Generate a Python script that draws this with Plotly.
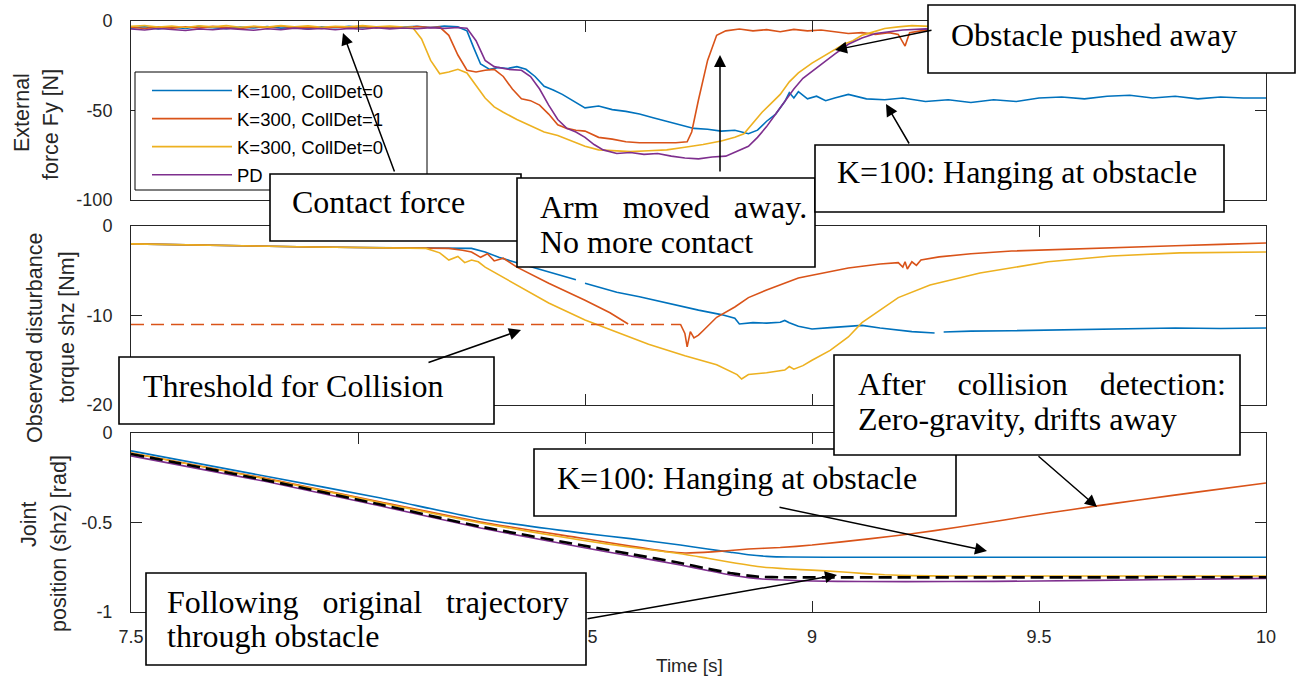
import plotly.graph_objects as go

# ---------------- data ----------------
x_tick_vals = [7.5, 8, 8.5, 9, 9.5, 10]
x_tick_text = ["7.5", "", "8.5", "9", "9.5", "10"]   # the "8" label is hidden under a box in the reference
fy_tick_vals = [-100, -50, 0]
fy_tick_text = ["-100", "-50", "0"]
tau_tick_vals = [-20, -10, 0]
tau_tick_text = ["-20", "-10", "0"]
q_tick_vals = [-1, -0.5, 0]
q_tick_text = ["-1", "-0.5", "0"]

series_names = ["K=100, CollDet=0", "K=300, CollDet=1", "K=300, CollDet=0", "PD"]
series_colors = ["#0072BD", "#D95319", "#EDB120", "#7E2F8E"]

# External force Fy [N]  (time, value)
fy_k100_cd0 = [(7.50,-4.0),(7.53,-3.2),(7.56,-4.4),(7.59,-3.5),(7.62,-4.1),(7.65,-3.0),(7.68,-3.8),(7.71,-4.3),
    (7.74,-3.4),(7.77,-3.9),(7.80,-3.1),(7.83,-4.0),(7.86,-3.6),(7.89,-4.4),(7.92,-3.3),(7.95,-3.8),(7.98,-3.0),
    (8.01,-3.7),(8.04,-3.2),(8.07,-4.0),(8.10,-3.4),(8.13,-2.9),(8.16,-3.6),(8.19,-2.8),(8.22,-3.3),(8.24,-5.5),
    (8.255,-15),(8.27,-24),(8.29,-27),(8.31,-26),(8.33,-26.5),(8.35,-25.5),(8.37,-27),(8.39,-31),(8.41,-36.5),
    (8.43,-38.5),(8.45,-41),(8.47,-44),(8.50,-48.5),(8.53,-47.5),(8.56,-49.5),(8.59,-50.5),(8.62,-52),(8.65,-54),
    (8.68,-56),(8.71,-58),(8.74,-60),(8.77,-60.5),(8.80,-61.5),(8.83,-61),(8.86,-63),(8.88,-61),(8.90,-56),
    (8.92,-52),(8.94,-45),(8.95,-40),(8.96,-43),(8.97,-39.5),(8.99,-43.5),(9.01,-42),(9.03,-44.5),(9.05,-43),
    (9.08,-41),(9.12,-43.5),(9.16,-44),(9.20,-43),(9.25,-45),(9.30,-44),(9.35,-45.5),(9.40,-44),(9.45,-45),
    (9.50,-43),(9.55,-42.5),(9.60,-43.5),(9.65,-42),(9.70,-41.5),(9.75,-43),(9.80,-42),(9.85,-43.5),(9.90,-42.5),
    (9.95,-43),(10.0,-43)]
fy_k300_cd1 = [(7.50,-3.5),(7.53,-4.2),(7.56,-3.3),(7.59,-4.0),(7.62,-3.2),(7.65,-3.9),(7.68,-3.0),(7.71,-3.6),
    (7.74,-4.3),(7.77,-3.1),(7.80,-3.7),(7.83,-2.8),(7.86,-3.9),(7.89,-3.4),(7.92,-4.1),(7.95,-3.3),(7.98,-3.8),
    (8.01,-3.0),(8.04,-3.9),(8.07,-3.2),(8.10,-3.8),(8.13,-3.1),(8.16,-3.6),(8.18,-3.4),(8.20,-8),(8.22,-19),
    (8.24,-27.5),(8.26,-28.5),(8.28,-27.5),(8.30,-27),(8.32,-31),(8.34,-38),(8.36,-43.5),(8.38,-44.5),(8.40,-47),
    (8.42,-52),(8.44,-58),(8.46,-60),(8.48,-61),(8.50,-61.5),(8.53,-65),(8.56,-66),(8.59,-67.5),(8.62,-68),
    (8.66,-68),(8.70,-68),(8.725,-67.5),(8.735,-62),(8.75,-44),(8.77,-22),(8.79,-8),(8.81,-5.5),(8.84,-4.5),
    (8.87,-5.5),(8.90,-4.8),(8.93,-6),(8.96,-4.7),(8.99,-5.5),(9.02,-5),(9.05,-6),(9.08,-7),(9.11,-6.5),
    (9.14,-7.5),(9.17,-6.5),(9.19,-7.5),(9.205,-14),(9.215,-6.5),(9.24,-5.5),(9.27,-5),(9.30,-5.5),(9.35,-4.5),
    (9.40,-5),(9.45,-4.2),(9.50,-4.8),(9.55,-4.0),(9.60,-4.6),(9.65,-3.8),(9.70,-4.4),(9.75,-4.0),(9.80,-4.5),
    (9.85,-3.9),(9.90,-4.3),(9.95,-4.0),(10.0,-4.2)]
fy_k300_cd0 = [(7.50,-3.0),(7.53,-2.5),(7.56,-3.4),(7.59,-2.8),(7.62,-3.6),(7.65,-2.7),(7.68,-3.3),(7.71,-2.6),
    (7.74,-3.5),(7.77,-2.9),(7.80,-3.4),(7.83,-2.6),(7.86,-3.2),(7.89,-2.7),(7.92,-3.5),(7.95,-2.9),(7.98,-3.3),
    (8.01,-2.6),(8.04,-3.2),(8.07,-2.8),(8.10,-3.4),(8.12,-3.5),(8.14,-10),(8.16,-22),(8.18,-29.5),(8.20,-28.5),
    (8.22,-27),(8.24,-29),(8.26,-36),(8.28,-43),(8.30,-48),(8.32,-51),(8.35,-55),(8.38,-58.5),(8.41,-62),
    (8.44,-64),(8.47,-67),(8.50,-70),(8.53,-72),(8.56,-72.5),(8.60,-73),(8.64,-72.5),(8.68,-72),(8.72,-70.5),
    (8.76,-69),(8.80,-67),(8.83,-65),(8.85,-63),(8.87,-57),(8.89,-51),(8.91,-46),(8.93,-41),(8.95,-34),
    (8.97,-29),(9.00,-23.5),(9.03,-19),(9.05,-16),(9.07,-13),(9.09,-11),(9.11,-8),(9.13,-6.5),(9.16,-4.2),
    (9.19,-3.3),(9.22,-2.6),(9.26,-3.0),(9.30,-2.2),(9.35,-2.8),(9.40,-2.0),(9.45,-2.6),(9.50,-1.9),(9.55,-2.5),
    (9.60,-2.1),(9.65,-2.7),(9.70,-2.0),(9.75,-2.4),(9.80,-2.2),(9.85,-2.8),(9.90,-2.3),(9.95,-2.6),(10.0,-2.4)]
fy_pd = [(7.50,-4.5),(7.53,-5.0),(7.56,-4.2),(7.59,-4.8),(7.62,-5.3),(7.65,-4.4),(7.68,-4.9),(7.71,-4.1),
    (7.74,-4.7),(7.77,-5.2),(7.80,-4.3),(7.83,-4.8),(7.86,-4.0),(7.89,-4.6),(7.92,-4.2),(7.95,-4.9),(7.98,-4.1),
    (8.01,-4.6),(8.04,-3.8),(8.07,-4.4),(8.10,-3.9),(8.13,-4.3),(8.16,-3.7),(8.19,-4.1),(8.22,-3.6),(8.24,-4.0),
    (8.26,-11),(8.28,-22),(8.30,-25.5),(8.33,-27),(8.36,-27.5),(8.38,-31),(8.40,-38),(8.42,-47),(8.44,-55),
    (8.46,-60),(8.48,-62),(8.50,-65),(8.52,-69),(8.54,-72),(8.57,-74),(8.60,-73.5),(8.63,-74.5),(8.66,-74),
    (8.69,-75.5),(8.72,-76.5),(8.75,-77),(8.78,-76),(8.81,-75.5),(8.84,-72),(8.86,-70),(8.88,-65),(8.90,-59),
    (8.92,-52),(8.94,-45),(8.96,-38),(8.98,-32),(9.00,-28),(9.02,-24),(9.05,-18.5),(9.08,-13),(9.11,-9.5),
    (9.14,-7),(9.17,-5.8),(9.20,-5),(9.25,-4.4),(9.30,-5.0),(9.35,-3.8),(9.40,-4.5),(9.45,-3.6),(9.50,-4.3),
    (9.55,-3.7),(9.60,-4.4),(9.65,-3.8),(9.70,-4.2),(9.75,-3.6),(9.80,-4.1),(9.85,-3.7),(9.90,-4.3),(9.95,-3.8),
    (10.0,-4.0)]

# Observed disturbance torque shz [Nm]  (None = gap in the recorded line)
tau_k100_cd0 = [(7.50,-2.0),(7.60,-2.1),(7.70,-2.2),(7.80,-2.3),(7.90,-2.35),(8.00,-2.4),(8.10,-2.45),
    (8.20,-2.45),(8.25,-2.5),(8.28,-2.9),(8.31,-3.5),(8.35,-4.1),(8.39,-4.7),(8.44,-5.4),(8.48,-6.0),(8.49,None),
    (8.50,-6.4),(8.57,-7.4),(8.62,-7.9),(8.68,-8.6),(8.75,-9.4),(8.80,-9.9),(8.83,-10.3),(8.84,-10.95),
    (8.87,-10.8),(8.90,-10.85),(8.93,-10.75),(8.94,-10.55),(8.95,-10.8),(8.97,-11.2),(9.00,-11.5),(9.04,-11.35),
    (9.08,-11.2),(9.11,-11.1),(9.15,-11.4),(9.19,-11.6),(9.22,-11.8),(9.27,-11.95),(9.28,None),(9.29,-11.85),
    (9.35,-11.75),(9.44,-11.7),(9.55,-11.6),(9.66,-11.5),(9.80,-11.4),(9.90,-11.45),(10.0,-11.4)]
tau_k300_cd1 = [(7.50,-2.0),(7.60,-2.1),(7.70,-2.2),(7.80,-2.3),(7.90,-2.35),(8.00,-2.4),(8.10,-2.45),
    (8.20,-2.5),(8.23,-2.7),(8.25,-2.9),(8.27,-3.5),(8.285,-3.1),(8.30,-3.9),(8.32,-3.6),(8.35,-4.6),(8.42,-6.4),
    (8.50,-8.3),(8.555,-9.7),(8.595,-10.95),(8.60,None),(8.71,-10.95),(8.72,-12.0),(8.725,-13.5),(8.732,-11.8),
    (8.74,-12.5),(8.75,-12.2),(8.76,-11.7),(8.79,-10.2),(8.83,-9.05),(8.86,-8.0),(8.90,-7.15),(8.93,-6.6),
    (8.97,-5.8),(9.00,-5.5),(9.04,-5.1),(9.08,-4.7),(9.15,-4.25),(9.19,-4.1),(9.20,-4.6),(9.205,-4.0),
    (9.21,-4.8),(9.22,-4.0),(9.23,-4.4),(9.24,-3.8),(9.28,-3.45),(9.35,-3.1),(9.44,-2.8),(9.55,-2.6),
    (9.66,-2.45),(9.80,-2.2),(9.90,-2.05),(10.0,-1.9)]
tau_k300_cd0 = [(7.50,-2.0),(7.60,-2.1),(7.70,-2.2),(7.80,-2.3),(7.90,-2.35),(8.00,-2.4),(8.10,-2.45),
    (8.15,-2.5),(8.18,-3.0),(8.20,-3.8),(8.22,-3.4),(8.235,-4.1),(8.25,-3.8),(8.265,-4.0),(8.28,-4.6),
    (8.35,-6.6),(8.42,-8.6),(8.50,-10.5),(8.57,-11.85),(8.64,-13.2),(8.72,-14.5),(8.79,-15.5),(8.835,-16.6),
    (8.845,-17.1),(8.86,-16.6),(8.90,-16.4),(8.94,-16.1),(8.95,-15.7),(8.96,-16.0),(8.98,-15.6),(9.00,-15.0),
    (9.04,-13.9),(9.08,-12.4),(9.11,-10.8),(9.15,-9.4),(9.19,-8.0),(9.26,-6.6),(9.37,-5.25),(9.52,-4.0),
    (9.66,-3.35),(9.81,-3.0),(10.0,-2.9)]
collision_threshold = [(7.50,-11.0),(8.71,-11.0)]

# Joint position (shz) [rad]
q_k100_cd0 = [(7.50,-0.100),(7.80,-0.243),(8.05,-0.363),(8.27,-0.480),(8.49,-0.558),(8.60,-0.590),
    (8.71,-0.626),(8.77,-0.648),(8.82,-0.666),(8.86,-0.680),(8.90,-0.689),(8.95,-0.693),(9.10,-0.694),
    (10.0,-0.694)]
q_k300_cd1 = [(7.50,-0.112),(7.80,-0.255),(8.05,-0.385),(8.27,-0.497),(8.49,-0.587),(8.60,-0.632),
    (8.68,-0.662),(8.72,-0.670),(8.78,-0.664),(8.86,-0.648),(8.93,-0.640),(9.00,-0.626),(9.13,-0.590),
    (9.22,-0.563),(9.32,-0.527),(9.42,-0.487),(9.52,-0.447),(9.62,-0.410),(9.72,-0.374),(9.86,-0.326),
    (10.0,-0.279)]
q_k300_cd0 = [(7.50,-0.112),(7.80,-0.258),(8.05,-0.390),(8.27,-0.503),(8.49,-0.598),(8.60,-0.638),
    (8.715,-0.676),(8.77,-0.700),(8.82,-0.722),(8.89,-0.749),(8.95,-0.760),(9.00,-0.766),(9.06,-0.775),
    (9.11,-0.784),(9.16,-0.792),(9.22,-0.797),(9.30,-0.799),(10.0,-0.799)]
q_pd = [(7.50,-0.128),(7.80,-0.272),(8.05,-0.408),(8.27,-0.531),(8.49,-0.637),(8.60,-0.687),(8.71,-0.737),
    (8.77,-0.768),(8.82,-0.793),(8.86,-0.808),(8.89,-0.816),(8.95,-0.823),(9.00,-0.827),(9.11,-0.830),
    (9.30,-0.830),(9.50,-0.827),(9.75,-0.820),(10.0,-0.812)]
q_reference = [(7.50,-0.117),(7.80,-0.265),(8.05,-0.400),(8.27,-0.523),(8.49,-0.626),(8.60,-0.676),
    (8.71,-0.726),(8.77,-0.758),(8.82,-0.782),(8.86,-0.797),(8.89,-0.804),(8.93,-0.806),(10.0,-0.806)]

# ---------------- geometry helpers (screen pixel -> paper) ----------------
W, H = 1299, 682
L, R, T, B = 131, 1266, 21, 612   # plot-area edges in pixels


def X(p):
    return (p - L) / (R - L)


def Y(p):
    return (B - p) / (B - T)


def split(pairs):
    return [p[0] for p in pairs], [p[1] for p in pairs]


AX_COL = "#262626"
SANS = "Liberation Sans, Arial, sans-serif"
SERIF = "Liberation Serif, Times New Roman, serif"

fig = go.Figure()

panels = [
    ([fy_k100_cd0, fy_k300_cd1, fy_k300_cd0, fy_pd], "x", "y", True),
    ([tau_k100_cd0, tau_k300_cd1, tau_k300_cd0, None], "x2", "y2", False),
    ([q_k100_cd0, q_k300_cd1, q_k300_cd0, q_pd], "x3", "y3", False),
]
for data, xa, ya, legend in panels:
    for i, pairs in enumerate(data):
        if pairs is None:
            continue
        t, v = split(pairs)
        fig.add_trace(go.Scatter(
            x=t, y=v, mode="lines", name=series_names[i], xaxis=xa, yaxis=ya,
            line=dict(color=series_colors[i], width=1.6,
                      shape="spline" if ya == "y3" else "linear",
                      smoothing=0.5 if ya == "y3" else None),
            showlegend=legend, legendgroup="g%d" % i, connectgaps=False))

t, v = split(collision_threshold)
fig.add_trace(go.Scatter(x=t, y=v, mode="lines", xaxis="x2", yaxis="y2", showlegend=False,
                         line=dict(color=series_colors[1], width=1.5, dash="13px,7px")))
t, v = split(q_reference)
fig.add_trace(go.Scatter(x=t, y=v, mode="lines", xaxis="x3", yaxis="y3", showlegend=False,
                         line=dict(color="black", width=2.6, dash="13px,6px", shape="spline",
                                   smoothing=0.5)))

common_x = dict(range=[7.5, 10], tickvals=x_tick_vals, ticktext=x_tick_text, ticks="inside",
                ticklen=11, tickcolor=AX_COL, showline=True, linecolor=AX_COL, linewidth=1,
                mirror="ticks", showgrid=False, zeroline=False,
                tickfont=dict(family=SANS, size=18, color=AX_COL))
common_y = dict(ticks="inside", ticklen=11, tickcolor=AX_COL, showline=True, linecolor=AX_COL,
                linewidth=1, mirror="ticks", showgrid=False, zeroline=False,
                tickfont=dict(family=SANS, size=18, color=AX_COL), ticklabelstandoff=14)

fig.update_layout(
    width=W, height=H,
    margin=dict(l=L, r=W - R, t=T, b=H - B, pad=0),
    paper_bgcolor="white", plot_bgcolor="white",
    hovermode=False,
    xaxis=dict(common_x, anchor="y", domain=[0, 1], showticklabels=False),
    xaxis2=dict(common_x, anchor="y2", domain=[0, 1], showticklabels=False),
    xaxis3=dict(common_x, anchor="y3", domain=[0, 1], ticklabelstandoff=8),
    yaxis=dict(common_y, anchor="x", domain=[Y(200), Y(T)], range=[-100, 0],
               tickvals=fy_tick_vals, ticktext=fy_tick_text),
    yaxis2=dict(common_y, anchor="x2", domain=[Y(405), Y(226)], range=[-20, 0],
                tickvals=tau_tick_vals, ticktext=tau_tick_text),
    yaxis3=dict(common_y, anchor="x3", domain=[Y(B), Y(433)], range=[-1, 0],
                tickvals=q_tick_vals, ticktext=q_tick_text),
    showlegend=True,
    legend=dict(x=X(147), y=Y(72), xanchor="left", yanchor="top", bgcolor="rgba(0,0,0,0)",
                borderwidth=0, font=dict(family=SANS, size=18.5, color="black"),
                traceorder="grouped", tracegroupgap=1, itemwidth=80),
)

# ---------------- boxes ----------------
boxes = [
    (135, 72, 427, 190, 1.0),      # legend frame
    (270, 174, 521, 241, 1.6),     # Contact force
    (517, 178, 815, 267, 1.6),     # Arm moved away
    (815, 145, 1224, 212, 1.6),    # K=100 (top)
    (928, 5, 1295, 73, 1.6),       # Obstacle pushed away
    (119, 357, 494, 424, 1.6),     # Threshold
    (534, 449, 956, 516, 1.6),     # K=100 (bottom)
    (834, 355, 1240, 455, 1.6),    # After collision detection
    (146, 573, 586, 665, 1.6),     # Following original trajectory
]
shapes = []
for x0, y0, x1, y1, lw in boxes:
    shapes.append(dict(type="rect", xref="paper", yref="paper", x0=X(x0), x1=X(x1), y0=Y(y1), y1=Y(y0),
                       fillcolor="white", line=dict(color="black", width=lw), layer="above"))
fig.update_layout(shapes=shapes)

NB = "\u00a0"
texts = [
    ("Contact force", 290, 202),
    ("Arm" + NB * 3 + "moved" + NB * 3 + "away.", 538, 207),
    ("No more contact", 538, 242),
    ("K=100: Hanging at obstacle", 835, 172),
    ("Obstacle pushed away", 949, 35),
    ("Threshold for Collision", 141, 386),
    ("After" + NB * 4 + "collision" + NB * 4 + "detection:", 856, 384),
    ("Zero-gravity, drifts away", 856, 419),
    ("K=100: Hanging at obstacle", 555, 478),
    ("Following" + NB * 3 + "original" + NB * 3 + "trajectory", 165, 602),
    ("through obstacle", 165, 636),
]
annotations = []
for txt, px, py in texts:
    annotations.append(dict(text=txt, xref="paper", yref="paper", x=X(px), y=Y(py), xanchor="left",
                            yanchor="middle", align="left", showarrow=False,
                            font=dict(family=SERIF, size=32, color="black")))

arrows = [  # (tail_x, tail_y, head_x, head_y)
    (395, 173, 343, 33),
    (720, 173, 720, 55),
    (933, 30, 835, 50),
    (910, 145, 886, 104),
    (427, 363, 521, 330),
    (1037, 455, 1097, 507),
    (778, 507, 987, 551),
    (586, 619, 837, 575),
]
for tx, ty, hx, hy in arrows:
    annotations.append(dict(text="", xref="paper", yref="paper", x=X(hx), y=Y(hy), ax=tx - hx, ay=ty - hy,
                            showarrow=True, arrowhead=2, arrowsize=1.6, arrowwidth=1.5,
                            arrowcolor="black", standoff=0, startstandoff=0))

ytitles = [
    ("External", 22, 113), ("force Fy [N]", 51, 124),
    ("Observed disturbance", 35, 338), ("torque shz [Nm]", 67, 327),
    ("Joint", 29, 525), ("position (shz) [rad]", 59, 544),
]
for txt, px, py in ytitles:
    annotations.append(dict(text=txt, xref="paper", yref="paper", x=X(px), y=Y(py), xanchor="center",
                            yanchor="middle", textangle=-90, showarrow=False,
                            font=dict(family=SANS, size=21.5, color=AX_COL)))
annotations.append(dict(text="Time [s]", xref="paper", yref="paper", x=X(689), y=Y(665), xanchor="center",
                        yanchor="middle", showarrow=False, font=dict(family=SANS, size=19, color=AX_COL)))
fig.update_layout(annotations=annotations)

# remove the default 8px page margin so the figure sits at the window's top-left corner
fig.write_html("out.html", config={"displayModeBar": False, "staticPlot": True},
               post_script="document.body.style.margin='0';document.body.style.overflow='hidden';")
